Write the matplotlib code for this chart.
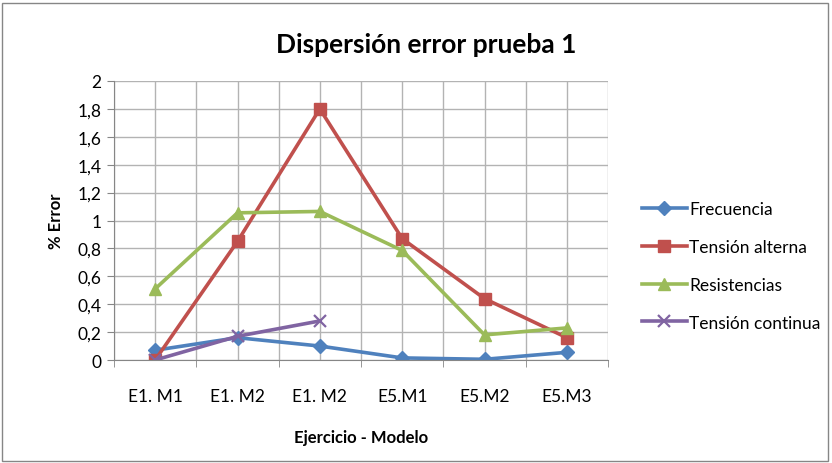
import matplotlib
matplotlib.use('Agg')
import matplotlib.pyplot as plt
from matplotlib.patches import Rectangle

plt.rcParams['font.family'] = ['Lato', 'DejaVu Sans']

modelos = ['E1. M1', 'E1. M2', 'E1. M2', 'E5.M1', 'E5.M2', 'E5.M3']
frecuencia = [0.07, 0.16, 0.10, 0.015, 0.005, 0.055]
tension_alterna = [0.0, 0.85, 1.80, 0.87, 0.44, 0.16]
resistencias = [0.51, 1.055, 1.065, 0.785, 0.18, 0.23]
tension_continua = [0.0, 0.17, 0.28]

series = [
    ('Frecuencia', frecuencia, '#4F81BD', 'D', 7),
    ('Tensión alterna', tension_alterna, '#C0504D', 's', 9),
    ('Resistencias', resistencias, '#9BBB59', '^', 9),
    ('Tensión continua', tension_continua, '#8064A2', 'x', 9),
]

fig = plt.figure(figsize=(8.32, 4.64), dpi=100)
ax = fig.add_axes([114 / 832, 1 - 361 / 464, (608 - 114) / 832, (361 - 82) / 464])

for nombre, valores, color, marcador, tam in series:
    ax.plot(range(len(valores)), valores, color=color, linewidth=2.6,
            marker=marcador, markersize=tam, markeredgewidth=1.6 if marcador == 'x' else 1,
            label=nombre)

ax.set_xlim(-0.5, len(modelos) - 0.5)
ax.set_ylim(0, 2)
ax.set_yticks([i * 0.2 for i in range(11)])
ax.set_yticklabels(['0', '0,2', '0,4', '0,6', '0,8', '1', '1,2', '1,4', '1,6', '1,8', '2'])
ax.set_xticks(range(len(modelos)))
ax.set_xticklabels(modelos)
ax.set_xticks([i - 0.5 for i in range(len(modelos) + 1)], minor=True)

ax.grid(True, which='major', color='#b3b3b3', linewidth=1)
ax.grid(True, which='minor', axis='x', color='#b3b3b3', linewidth=1)
ax.set_axisbelow(True)
ax.tick_params(axis='x', which='major', length=0, pad=20, labelsize=12.5)
ax.tick_params(axis='x', which='minor', length=5, color='#868686')
ax.tick_params(axis='y', length=5, color='#868686', labelsize=12.5, pad=4)
for lado in ['top', 'right']:
    ax.spines[lado].set_visible(False)
for lado in ['left', 'bottom']:
    ax.spines[lado].set_color('#868686')

ax.set_ylabel('% Error', fontsize=12, fontweight='bold', labelpad=10)
ax.set_xlabel('Ejercicio - Modelo', fontsize=12, fontweight='bold', labelpad=18)
fig.text(426 / 832, 1 - 45 / 464, 'Dispersión error prueba 1', ha='center', va='center',
         fontsize=19, fontweight='bold')

fig.legend(loc='center left', bbox_to_anchor=(626 / 832, 1 - 267 / 464), frameon=False,
           fontsize=12.5, labelspacing=1.25, handlelength=2.6, handletextpad=0.15)

fig.patches.append(Rectangle((2 / 832, 2 / 464), 826 / 832, 458 / 464, transform=fig.transFigure,
                             fill=False, edgecolor='#868686', linewidth=1))

fig.savefig('out.png', dpi=100)
plt.close(fig)
